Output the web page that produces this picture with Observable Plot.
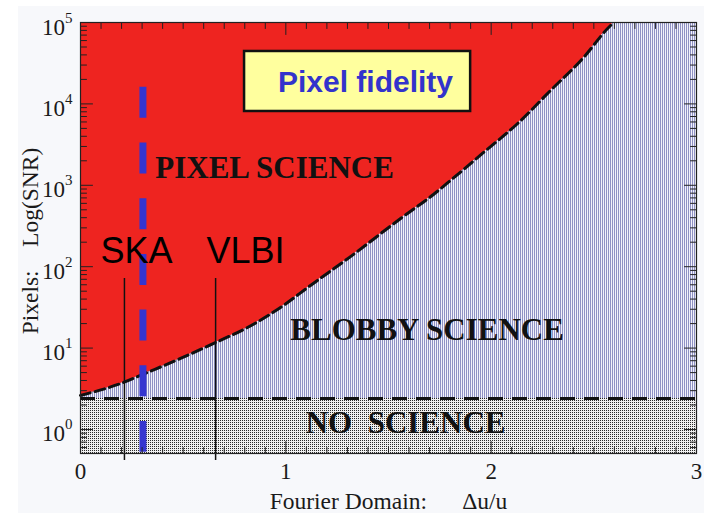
<!DOCTYPE html>
<html><head><meta charset="utf-8">
<script src="https://cdn.jsdelivr.net/npm/d3@7"></script>
<script src="https://cdn.jsdelivr.net/npm/@observablehq/plot@0.6"></script>
<style>
html,body{margin:0;padding:0;background:#fff;}
#wrap{position:relative;width:704px;height:513px;overflow:hidden;}
#bg{position:absolute;left:18px;top:6px;right:0;bottom:0;background:#f7f8fb;}
#chart{position:absolute;left:0;top:0;}
</style></head>
<body><div id="wrap"><div id="bg"></div><div id="chart"></div></div>
<script>
// ---- data ----
const curveX   = [0, 0.209, 0.307, 0.487, 0.658, 0.813, 0.974, 1.120, 1.315, 1.559, 1.719, 1.802, 1.963, 2.129, 2.289, 2.450, 2.567, 2.596];
const curveSNR = [2.62, 3.78, 4.8, 7.45, 11.7, 17.9, 31.5, 58.8, 133, 391, 771, 1146, 2530, 5740, 14600, 37200, 84400, 100000];
const noScienceLevel = 2.4;
const xDomain = [0, 3];
const yDomain = [0.507, 100000];

const instruments      = ["SKA", "VLBI"];
const instrumentX      = [0.214, 0.658];
const instrumentLabelX = [0.273, 0.804];
const instrumentLabelY = [154, 154];
const instrumentTop    = [71.6, 71.6];
const instrumentBottom = [0.416, 0.416];

const markerX = [0.304];
const markerTop = [16000];
const markerBottom = [0.526];

const regionNames = ["PIXEL SCIENCE", "BLOBBY SCIENCE", "NO\u00a0\u00a0SCIENCE"];
const regionX     = [0.945, 1.688, 1.583];
const regionY     = [1632, 16.45, 1.2];

const titleText = ["Pixel fidelity"];
const titleX = [1.388], titleY = [18300];
const titleBoxX1 = [0.799], titleBoxX2 = [1.900], titleBoxY1 = [8070], titleBoxY2 = [44050];

const xTickLabels = [0, 1, 2, 3];
const yTickLabels = [1, 10, 100, 1000, 10000, 100000];
const xTitle = "Fourier Domain:\u00a0\u00a0\u00a0\u00a0\u00a0\u00a0\u0394u/u";
const yTitle = "Pixels:\u00a0\u00a0\u00a0\u00a0Log(SNR)";

// ---- derived tables ----
const curve = curveX.map((x, i) => ({x, y: curveSNR[i]}));
const span = xDomain.map(x => ({x}));
const inst = instruments.map((name, i) => ({name, x: instrumentX[i], lx: instrumentLabelX[i], ly: instrumentLabelY[i], top: instrumentTop[i], bottom: instrumentBottom[i]}));
const marker = markerX.map((x, i) => ({x, top: markerTop[i], bottom: markerBottom[i]}));
const regions = regionNames.map((t, i) => ({t, x: regionX[i], y: regionY[i]}));
const titleBox = titleText.map((t, i) => ({t, x: titleX[i], y: titleY[i], x1: titleBoxX1[i], x2: titleBoxX2[i], y1: titleBoxY1[i], y2: titleBoxY2[i]}));

const xMinor = d3.range(0, 30).map(i => i / 10).filter(v => !xTickLabels.includes(v));
const yMinor = [];
for (const dec of [0.1, 1, 10, 100, 1000, 10000]) for (let k = 2; k <= 9; k++) { const v = dec * k; if (v >= yDomain[0] && v <= yDomain[1]) yMinor.push(v); }

const yMin = yDomain[0], yMax = yDomain[1];
const tickShape = {draw(ctx, l) { ctx.moveTo(0, 0); ctx.lineTo(0, -l); }};
const serif = "Liberation Serif, Times New Roman, serif";
const sans = "Liberation Sans, Arial, sans-serif";
const ink = "#1a1a1a";

function ticks(values, len, side) {
  const rot = {bottom: 0, top: 180, left: 90, right: -90}[side];
  const isX = side === "bottom" || side === "top";
  const fixed = side === "bottom" ? yMin : side === "top" ? yMax : side === "left" ? xDomain[0] : xDomain[1];
  return Plot.vector(values, {
    x: isX ? d => d : d => fixed,
    y: isX ? d => fixed : d => d,
    length: len, rotate: rot, anchor: "start", shape: tickShape,
    stroke: "#222", strokeWidth: 1
  });
}

const svg = Plot.plot({
  width: 704, height: 513,
  marginLeft: 80, marginRight: 8, marginTop: 22, marginBottom: 60,
  style: {background: "transparent", overflow: "visible"},
  x: {domain: xDomain, axis: null},
  y: {type: "log", domain: yDomain, axis: null},
  marks: [
    Plot.areaY(span, {x: "x", y1: () => yMin, y2: () => noScienceLevel, fill: "url(#pGray)"}),
    Plot.areaY(span, {x: "x", y1: () => noScienceLevel, y2: () => yMax, fill: "url(#pBlue)"}),
    Plot.areaY(curve, {x: "x", y1: "y", y2: () => yMax, curve: "monotone-x", fill: "#ee2420"}),
    Plot.ruleY([noScienceLevel], {stroke: "#111", strokeWidth: 3, strokeDasharray: "15,9"}),
    Plot.line(curve, {x: "x", y: "y", curve: "monotone-x", stroke: "#111", strokeWidth: 3, strokeDasharray: "10,5"}),
    Plot.ruleX(inst, {x: "x", y1: "top", y2: "bottom", stroke: "#111", strokeWidth: 1.5}),
    Plot.ruleX(marker, {x: "x", y1: "top", y2: "bottom", stroke: "#3535d0", strokeWidth: 7, strokeDasharray: "31,24.7"}),
    Plot.text(inst, {x: "lx", y: "ly", text: "name", fontFamily: sans, fontSize: 36, fill: "#000", lineAnchor: "middle"}),
    Plot.text(regions, {x: "x", y: "y", text: "t", fontFamily: serif, fontWeight: "bold", fontSize: 31, fill: "#111", lineAnchor: "middle"}),
    Plot.rect(titleBox, {x1: "x1", x2: "x2", y1: "y1", y2: "y2", fill: "#ffff9e", stroke: "#111", strokeWidth: 2.5}),
    Plot.text(titleBox, {x: "x", y: "y", text: "t", fontFamily: sans, fontWeight: "bold", fontSize: 30, fill: "#3333cc", lineAnchor: "middle"}),
    ticks(xTickLabels, 12, "bottom"), ticks(xMinor, 6, "bottom"),
    ticks(xTickLabels, 12, "top"), ticks(xMinor, 6, "top"),
    ticks(yTickLabels, 12, "left"), ticks(yMinor, 6, "left"),
    ticks(yTickLabels, 12, "right"), ticks(yMinor, 6, "right"),
    Plot.frame({stroke: "#222", strokeWidth: 1.2}),
    Plot.text(xTickLabels, {x: d => d, y: () => yMin, text: d => String(d), dy: 25, lineAnchor: "bottom", fontFamily: serif, fontSize: 23, fill: ink}),
    Plot.text(yTickLabels, {x: () => xDomain[0], y: d => d, text: d => "10^" + Math.round(Math.log10(d)), dx: -8, dy: 12, textAnchor: "end", lineAnchor: "bottom", fontFamily: serif, fontSize: 23, fill: ink}),
    Plot.text([xTitle], {text: d => d, frameAnchor: "bottom", dy: 55, textAnchor: "middle", lineAnchor: "bottom", fontFamily: serif, fontSize: 23.5, fill: ink}),
    Plot.text([yTitle], {text: d => d, frameAnchor: "left", rotate: -90, dx: -43, dy: 3, textAnchor: "middle", lineAnchor: "bottom", fontFamily: serif, fontSize: 23.5, fill: ink})
  ]
});

// patterns emulating the textured fills
const defs = d3.select(svg).insert("defs", ":first-child");
function pattern(id, w, h, bg, dots) {
  const p = defs.append("pattern").attr("id", id).attr("patternUnits", "userSpaceOnUse").attr("width", w).attr("height", h);
  p.append("rect").attr("width", w).attr("height", h).attr("fill", bg);
  for (const [x, y, c] of dots) p.append("rect").attr("x", x).attr("y", y).attr("width", 1).attr("height", 1).attr("fill", c);
}
pattern("pBlue", 2, 1, "#f2f2fa", [[0, 0, "#8f91c4"]]);
pattern("pGray", 2, 2, "#f0f0f0", [[0, 0, "#2a2a2a"]]);

// superscript exponents on the log axis labels
d3.select(svg).selectAll("text").each(function () {
  const s = this.textContent;
  if (!s.includes("^")) return;
  const [b, e] = s.split("^");
  while (this.firstChild) this.removeChild(this.firstChild);
  d3.select(this).append("tspan").text(b);
  d3.select(this).append("tspan").attr("dy", -12).attr("font-size", 15).text(e);
});

document.getElementById("chart").appendChild(svg);
</script>
</body></html>
